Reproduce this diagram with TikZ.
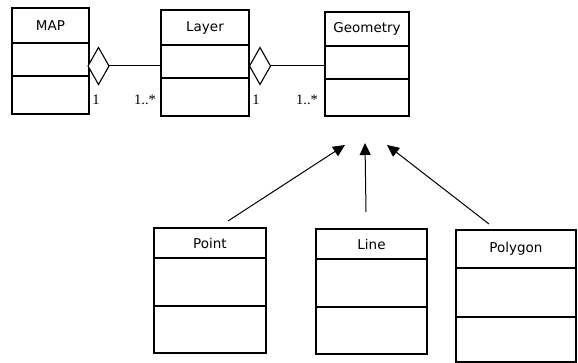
\documentclass[tikz,border=0pt]{standalone}
\usepackage{fontspec}
\setmainfont{Liberation Serif}
\newfontfamily\umlfont{DejaVu Sans}
\usetikzlibrary{shapes.geometric, arrows.meta, positioning}
\tikzset{
    classname/.style={
        draw, rectangle, outer sep=0pt, inner sep=0pt, align=center, font=\umlfont\fontsize{13.5}{16}\selectfont
    },
    classpart/.style={
        draw, rectangle, outer sep=0pt, inner sep=0pt
    },
    aggregation/.style={
        draw, diamond, inner sep=0pt, outer sep=0pt, minimum width=21pt, minimum height=37pt, fill=white
    },
    mult/.style={
        inner sep=0pt, font=\fontsize{14.5}{16}\selectfont
    },
    link/.style={
        line width=1pt
    },
    arrow/.style={
        line width=1pt, -{Triangle[length=12pt,width=11pt]}
    }
}

\begin{document}
\begin{tikzpicture}[x=1pt, y=-1pt, line width=1.1pt]
    \useasboundingbox (0,0) rectangle (578,363);

    % classes
    \node (map) [classname, minimum width=77pt, minimum height=35pt] at (50.5,25.5) {MAP};
    \node (map1) [classpart, minimum width=77pt, minimum height=33pt, below=0pt of map] {};
    \node (map2) [classpart, minimum width=77pt, minimum height=38pt, below=0pt of map1] {};

    \node (layer) [classname, minimum width=88pt, minimum height=35pt] at (205,27.5) {Layer};
    \node (layer1) [classpart, minimum width=88pt, minimum height=33pt, below=0pt of layer] {};
    \node (layer2) [classpart, minimum width=88pt, minimum height=38pt, below=0pt of layer1] {};

    \node (geom) [classname, minimum width=84pt, minimum height=34pt] at (367,29) {Geometry};
    \node (geom1) [classpart, minimum width=84pt, minimum height=33pt, below=0pt of geom] {};
    \node (geom2) [classpart, minimum width=84pt, minimum height=37pt, below=0pt of geom1] {};

    \node (point) [classname, minimum width=112pt, minimum height=30pt] at (210,243) {Point};
    \node (point1) [classpart, minimum width=112pt, minimum height=48pt, below=0pt of point] {};
    \node (point2) [classpart, minimum width=112pt, minimum height=47pt, below=0pt of point1] {};

    \node (line) [classname, minimum width=111pt, minimum height=30pt] at (371.5,244) {Line};
    \node (line1) [classpart, minimum width=111pt, minimum height=48pt, below=0pt of line] {};
    \node (line2) [classpart, minimum width=111pt, minimum height=47pt, below=0pt of line1] {};

    \node (polygon) [classname, minimum width=120pt, minimum height=38pt] at (516,249) {Polygon};
    \node (polygon1) [classpart, minimum width=120pt, minimum height=49pt, below=0pt of polygon] {};
    \node (polygon2) [classpart, minimum width=120pt, minimum height=45pt, below=0pt of polygon1] {};

    % aggregations
    \node (dmap) [aggregation] at (98.5,66) {};
    \node (dlayer) [aggregation] at (260,66) {};
    \draw [link] (dmap.east) -- (dmap.east -| layer1.west);
    \draw [link] (dlayer.east) -- (dlayer.east -| geom1.west);

    \node (m1) [mult] at (96,100) {1};
    \node (m2) [mult] at (145,100) {1..*};
    \node (m3) [mult] at (256,100) {1};
    \node (m4) [mult] at (307,100) {1..*};

    % generalization
    \coordinate (ptail) at (228,221);
    \coordinate (ptip) at (345,145);
    \coordinate (ltail) at (366,212);
    \coordinate (ltip) at (365,143);
    \coordinate (gtail) at (489,224);
    \coordinate (gtip) at (387,145);
    \draw [arrow] (ptail) -- (ptip);
    \draw [arrow] (ltail) -- (ltip);
    \draw [arrow] (gtail) -- (gtip);

\end{tikzpicture}
\end{document}
